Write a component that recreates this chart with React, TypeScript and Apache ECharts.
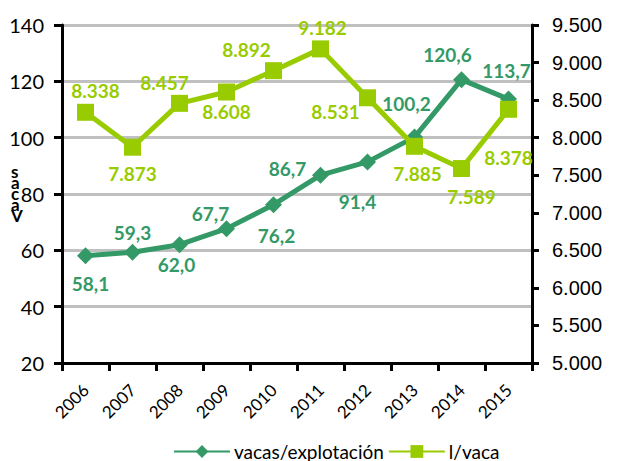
import React, { useEffect, useRef } from "react";
import * as echarts from "echarts";

const years = ["2006", "2007", "2008", "2009", "2010", "2011", "2012", "2013", "2014", "2015"];
const vacasExplotacion = [58.1, 59.3, 62.0, 67.7, 76.2, 86.7, 91.4, 100.2, 120.6, 113.7];
const litrosVaca = [8338, 7873, 8457, 8608, 8892, 9182, 8531, 7885, 7589, 8378];
const leftTicks = { min: 20, max: 140, interval: 20 };
const rightTicks = { min: 5000, max: 9500, interval: 500 };

// label offsets (px) from the marker centre, style only
const vacasLabelOffsets: [number, number][] = [
  [5, 28], [0, -20], [-3, 20], [-16, -15], [3, 31], [-33, -7], [-10, 40], [-8, -34], [-14, -25], [-2, -29],
];
const litrosLabelOffsets: [number, number][] = [
  [10, -22], [0, 26], [-15, -21], [0, 20], [-27, -21], [2, -21], [-32, 14], [3, 27], [10, 28], [0, 48],
];

const DARK = "#339966";
const LIGHT = "#99cc00";
const FONT = "Lato";

const fmtThousands = (v: number) => {
  const s = Math.round(v).toString();
  return s.replace(/\B(?=(\d{3})+(?!\d))/g, ".");
};

export default function App() {
  const ref = useRef<HTMLDivElement>(null);
  useEffect(() => {
    if (!ref.current) return;
    const chart = echarts.init(ref.current, undefined, { renderer: "svg" });
    const labelBase = {
      show: true,
      position: "inside" as const,
      align: "center" as const,
      verticalAlign: "middle" as const,
      fontFamily: FONT,
      fontWeight: "bold" as const,
      fontSize: 19,
    };
    chart.setOption({
      animation: false,
      backgroundColor: "#ffffff",
      grid: { left: 62, right: 98, top: 25, bottom: 98, containLabel: false },
      legend: {
        left: 168,
        top: 437,
        itemWidth: 56,
        itemHeight: 16,
        itemGap: 4,
        textStyle: { fontFamily: FONT, fontSize: 19, color: "#000", padding: [0, 0, 0, -1] },
        data: ["vacas/explotación", "l/vaca"],
      },
      xAxis: {
        type: "category",
        data: years,
        boundaryGap: true,
        axisLine: { lineStyle: { color: "#000", width: 3 } },
        axisTick: { show: true, length: 8, lineStyle: { color: "#000", width: 3 } },
        axisLabel: {
          rotate: 45,
          margin: 24,
          interval: 0,
          fontFamily: FONT,
          fontSize: 17,
          color: "#000",
        },
        splitLine: { show: false },
      },
      yAxis: [
        {
          type: "value",
          min: leftTicks.min,
          max: leftTicks.max,
          interval: leftTicks.interval,
          axisLine: { show: true, lineStyle: { color: "#000", width: 3 } },
          axisTick: { show: true, length: 8, lineStyle: { color: "#000", width: 3 } },
          axisLabel: { margin: 18, fontFamily: FONT, fontSize: 20, color: "#000" },
          splitLine: { show: true, lineStyle: { color: "#c0c0c0", width: 3 } },
        },
        {
          type: "value",
          position: "right",
          min: rightTicks.min,
          max: rightTicks.max,
          interval: rightTicks.interval,
          axisLine: { show: true, lineStyle: { color: "#000", width: 3 } },
          axisTick: { show: true, length: 7, lineStyle: { color: "#000", width: 3 } },
          axisLabel: {
            margin: 20,
            fontFamily: "Liberation Sans",
            fontSize: 20,
            color: "#000",
            formatter: (v: number) => fmtThousands(v),
          },
          splitLine: { show: false },
        },
      ],
      graphic: [
        {
          type: "text",
          left: 11,
          top: 163,
          style: {
            text: "s\na\nc\na\nV",
            fontFamily: FONT,
            fontWeight: "bold",
            fontSize: 17,
            lineHeight: 11,
            fill: "#000",
            align: "center",
          },
        },
      ],
      series: [
        {
          name: "vacas/explotación",
          type: "line",
          yAxisIndex: 0,
          data: vacasExplotacion.map((v, i) => ({
            value: v,
            label: { offset: vacasLabelOffsets[i] },
          })),
          symbol: "diamond",
          symbolSize: 17,
          lineStyle: { color: DARK, width: 5 },
          itemStyle: { color: DARK },
          label: {
            ...labelBase,
            color: DARK,
            formatter: (p: any) => (p.value as number).toFixed(1).replace(".", ","),
          },
          z: 2,
        },
        {
          name: "l/vaca",
          type: "line",
          yAxisIndex: 1,
          data: litrosVaca.map((v, i) => ({
            value: v,
            label: { offset: litrosLabelOffsets[i] },
          })),
          symbol: "rect",
          symbolSize: 17,
          lineStyle: { color: LIGHT, width: 5 },
          itemStyle: { color: LIGHT },
          label: {
            ...labelBase,
            color: LIGHT,
            formatter: (p: any) => fmtThousands(p.value as number),
          },
          z: 3,
        },
      ],
    });
    return () => chart.dispose();
  }, []);
  return (
    <div
      ref={ref}
      style={{ position: "absolute", left: 0, top: 0, width: 630, height: 461 }}
    />
  );
}
